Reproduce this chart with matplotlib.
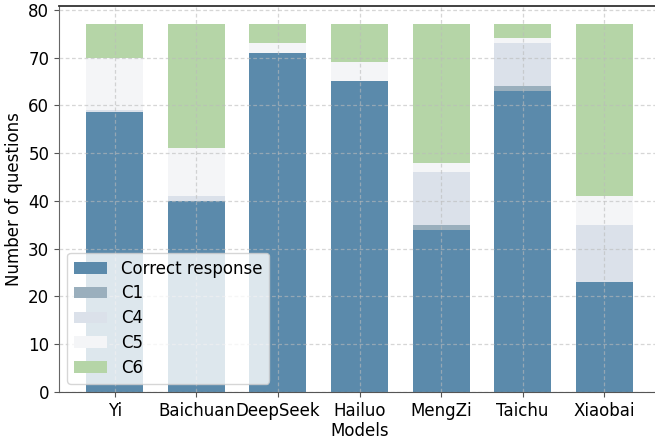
import matplotlib
matplotlib.use("Agg")
import matplotlib.pyplot as plt
import numpy as np

# === data (questions per model, stacked)
models = ["Yi", "Baichuan", "DeepSeek", "Hailuo", "MengZi", "Taichu", "Xiaobai"]
correct = [58.7, 40, 71, 65, 34, 63, 23]
c1 = [0, 0, 0, 0, 1, 1, 0]
c4 = [0.3, 1, 0, 0, 11, 9, 12]
c5 = [11, 10, 2, 4, 2, 1, 6]
c6 = [7, 26, 4, 8, 29, 3, 36]

series = [
    ("Correct response", correct, "#5b8aab"),
    ("C1", c1, "#9aafbd"),
    ("C4", c4, "#dbe1ea"),
    ("C5", c5, "#f4f5f7"),
    ("C6", c6, "#b5d5a7"),
]

plt.rcParams["font.family"] = "DejaVu Sans"
plt.rcParams["font.size"] = 12

fig = plt.figure(figsize=(6.55, 4.41), dpi=100)
# axes runs a bit past the right edge of the picture, as in the original
ax = fig.add_axes([59 / 655, 1 - 392 / 441, 601 / 655, 386.3 / 441])

x = np.arange(len(models))
bottom = np.zeros(len(models))
for label, vals, color in series:
    vals = np.array(vals, dtype=float)
    ax.bar(x, vals, width=0.7, bottom=bottom, color=color, label=label, zorder=2)
    bottom += vals

ax.set_xticks(x)
ax.set_xticklabels(models)
ax.set_xlim(-0.685, 6.685)
ax.set_ylim(0, 80.85)
ax.set_yticks(range(0, 81, 10))
ax.set_xlabel("Models", labelpad=2)
ax.set_ylabel("Number of questions")

ax.grid(True, linestyle=(0, (3, 2)), color="#bbbbbb", alpha=0.6, linewidth=0.9, zorder=3)
ax.set_axisbelow(False)

ax.spines["right"].set_visible(False)
ax.spines["top"].set_color("#333333")
ax.spines["top"].set_linewidth(1.3)
ax.spines["left"].set_color("#666666")
ax.spines["bottom"].set_color("#555555")
ax.tick_params(colors="#555555", labelcolor="black")

leg = ax.legend(loc="lower left", framealpha=0.8, fontsize=12, labelspacing=0.41)
leg.set_zorder(5)

fig.savefig("out.png", dpi=100)
